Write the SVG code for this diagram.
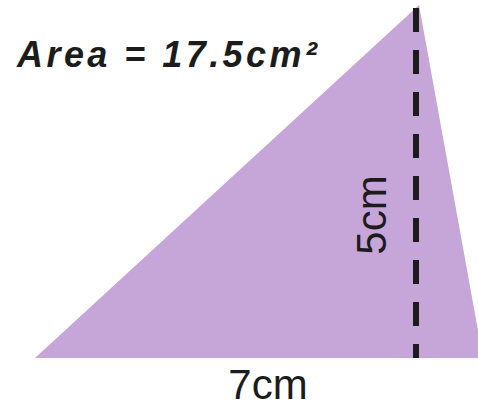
<svg xmlns="http://www.w3.org/2000/svg" width="478" height="407" viewBox="0 0 478 407">
<style>
.lbl{font-family:"Liberation Sans",Arial,sans-serif;fill:#1c1c1c}
.title{font-style:italic;font-weight:bold;font-size:36px}
.dim{font-size:42px}
</style>
<g id="triangle">
<polygon points="35,358 419,5 483,358" fill="#c6a5d9"/>
</g>
<g id="connectors">
<line x1="416" y1="8" x2="416" y2="358" stroke="#1c1c1c" stroke-width="6" stroke-dasharray="24 18"/>
</g>
<g id="area-label">
<text class="lbl title" x="17" y="67" textLength="300" lengthAdjust="spacing">Area = 17.5cm²</text>
</g>
<g id="base-label">
<text class="lbl dim" x="268" y="399" text-anchor="middle">7cm</text>
</g>
<g id="height-label">
<text class="lbl dim" transform="translate(386,215) rotate(-90)" text-anchor="middle">5cm</text>
</g>
</svg>
